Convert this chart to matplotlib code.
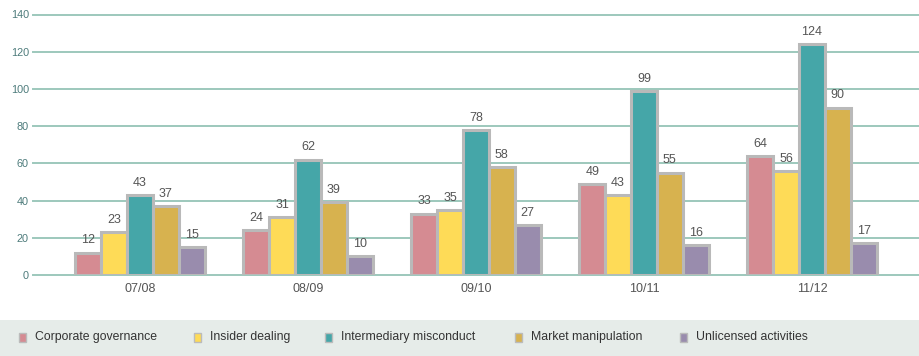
import numpy as np
import matplotlib
matplotlib.use("Agg")
import matplotlib.pyplot as plt
from matplotlib.patches import Rectangle

plt.rcParams['font.family'] = ['Liberation Sans Narrow', 'Liberation Sans', 'DejaVu Sans']

# данные
years = ['07/08', '08/09', '09/10', '10/11', '11/12']
series_names = ['Corporate governance', 'Insider dealing', 'Intermediary misconduct',
                'Market manipulation', 'Unlicensed activities']
corporate = [12, 24, 33, 49, 64]
insider = [23, 31, 35, 43, 56]
intermediary = [43, 62, 78, 99, 124]
market = [37, 39, 58, 55, 90]
unlicensed = [15, 10, 27, 16, 17]
y_ticks = [0, 20, 40, 60, 80, 100, 120, 140]

colors = ['#D58B92', '#FEDB57', '#45A6A8', '#D7B24F', '#998CAD']
edge = '#B9B9B9'
grid_col = '#9DC8BC'
tick_col = '#4D7B7B'

fig = plt.figure(figsize=(9.19, 3.56), dpi=100)
ax = fig.add_axes([33 / 919, 1 - 275 / 356, 1 - 33 / 919, (275 - 14.5) / 356])

x = np.arange(len(years))
w = 0.154
all_series = [corporate, insider, intermediary, market, unlicensed]
for i, (vals, c) in enumerate(zip(all_series, colors)):
    pos = x + (i - 2) * w
    ax.bar(pos, vals, width=w, color=c, edgecolor=edge, linewidth=2.2, zorder=3)
    for px, v in zip(pos, vals):
        ax.annotate(str(v), (px, v), xytext=(0, 8.8), textcoords='offset points',
                    ha='center', va='center', fontsize=9, color='#555555', zorder=4)

for t in y_ticks:
    ax.axhline(t, color=grid_col, lw=1.4, zorder=1, clip_on=False)

ax.set_xlim(-0.637, 4.637)
ax.set_ylim(0, 140)
ax.set_yticks(y_ticks)
ax.set_xticks(x)
ax.set_xticklabels(years)
ax.tick_params(axis='y', length=0, pad=3, labelsize=7.8, labelcolor=tick_col)
ax.tick_params(axis='x', length=0, pad=6, labelsize=9, labelcolor='#555555')
for s in ax.spines.values():
    s.set_visible(False)

# полоса легенды
band = Rectangle((0, 0), 1, 36 / 356, transform=fig.transFigure,
                 facecolor='#E6ECE9', edgecolor='none', zorder=0)
fig.patches.append(band)
leg_x = [22, 197, 328, 518, 683]
for lx, name, c in zip(leg_x, series_names, colors):
    sq = Rectangle(((lx - 3.5) / 919, 1 - 341.5 / 356), 7 / 919, 9 / 356,
                   transform=fig.transFigure, facecolor=c, edgecolor='#BBBBBB',
                   linewidth=1, zorder=1)
    fig.patches.append(sq)
    fig.text((lx + 13) / 919, 1 - 337 / 356, name, fontsize=8.8, color='#333333',
             va='center', ha='left')

fig.savefig('out.png', dpi=100)
